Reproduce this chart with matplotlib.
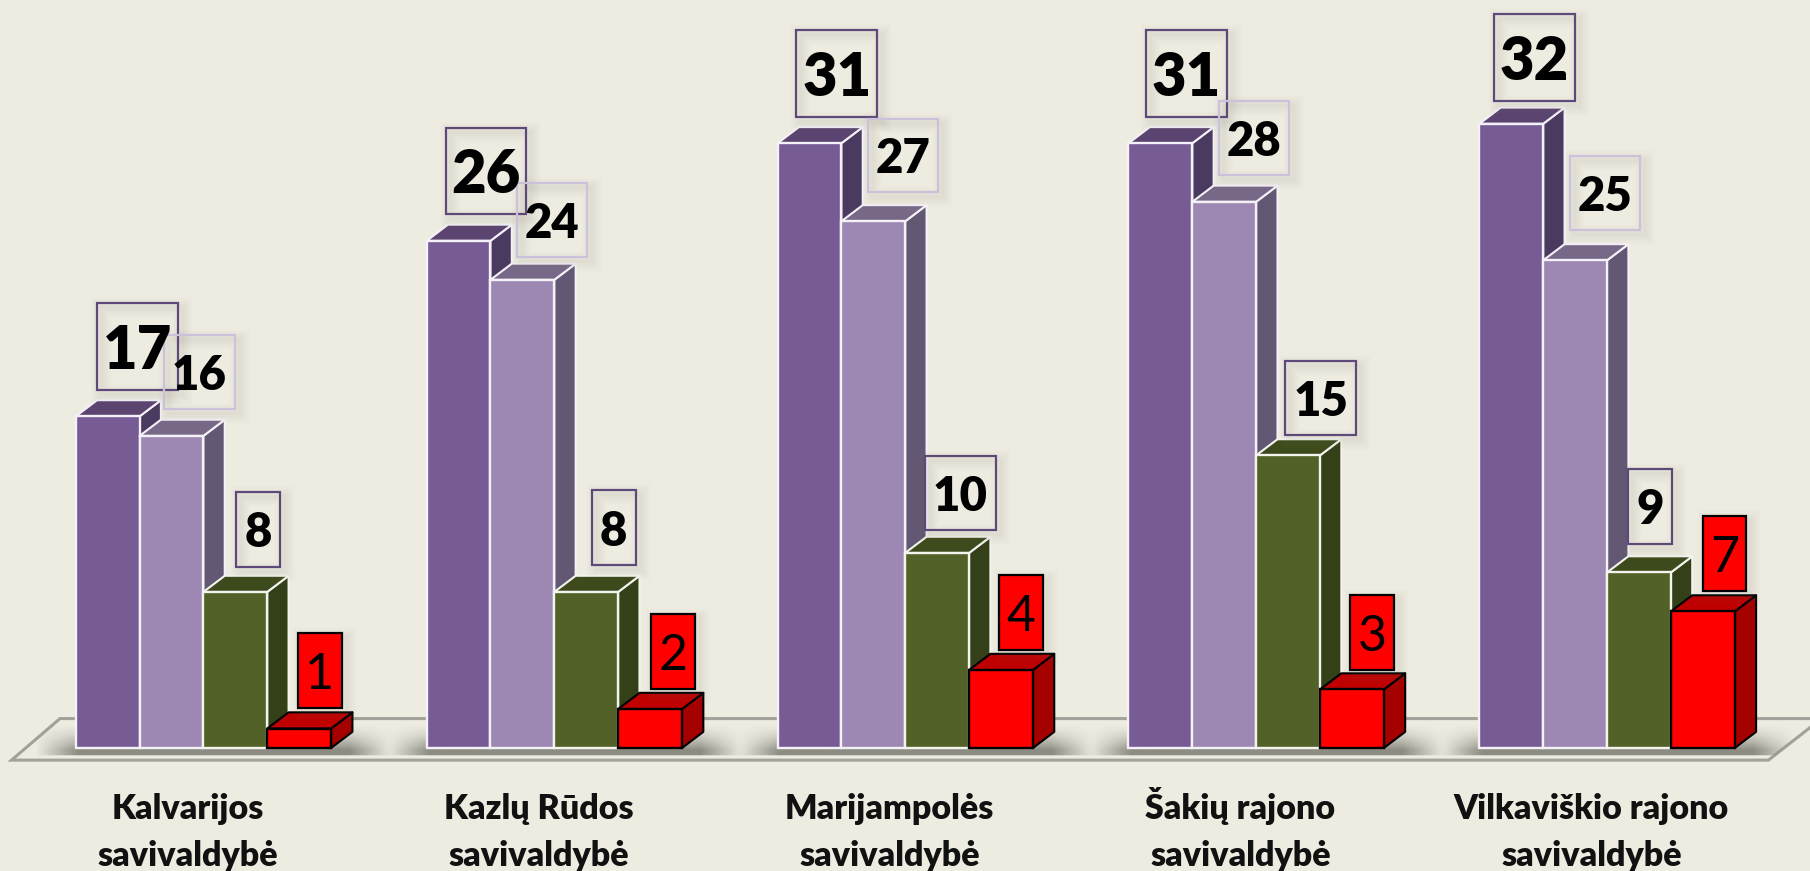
import numpy as np
import matplotlib
matplotlib.use("Agg")
import matplotlib.pyplot as plt
from matplotlib.patches import Polygon, Rectangle
from matplotlib.colors import to_rgb

plt.rcParams['font.family'] = ['Lato', 'DejaVu Sans']

categories = ["Kalvarijos\nsavivaldybė", "Kazlų Rūdos\nsavivaldybė", "Marijampolės\nsavivaldybė",
              "Šakių rajono\nsavivaldybė", "Vilkaviškio rajono\nsavivaldybė"]
series1 = [17, 26, 31, 31, 32]
series2 = [16, 24, 27, 28, 25]
series3 = [8, 8, 10, 15, 9]
series4 = [1, 2, 4, 3, 7]

# label nudges, in px of the 1568 wide preview
label_dx = [[53, 51, 51, 50, 47.5], [51.5, 53, 53, 53, 53], [47, 51, 47.5, 55.5, 37], [45, 47, 44.5, 44.5, 46]]
label_gap = [[23, 23, 23, 23, 20], [23, 20, 25, 23, 26], [22, 23, 20, 18, 25], [18, 17, 17, 17, 18]]

fronts = ["#775B95", "#9C88B2", "#526127", "#FF0000"]
sides = ["#4B3A60", "#635873", "#344018", "#A50000"]
tops = ["#5B4470", "#776888", "#3D4A1C", "#C00000"]
edges = ["#F4F1F8", "#F4F1F8", "#F4F4EE", "#000000"]
box_edges = ["#5F497A", "#CCC1DA", "#5F497A", "#000000"]
bg = "#EEECE1"

s = 1810 / 1568
unit = 16.9 * s  # px per value
base_px = 648 * s
bw = 55.3 * s
group_step = 304 * s
group_x0 = 65.6 * s
depth_x = 18.5 * s
depth_y = 14 * s / unit


def ypx(p):
    # pixel row (from the top) to value units
    return (base_px - p) / unit


fig = plt.figure(figsize=(18.10, 8.71), dpi=100, facecolor=bg)
ax = fig.add_axes([0, 0, 1, 1])
ax.set_facecolor(bg)
ax.set_xlim(0, 1810)
ax.set_ylim(ypx(871), ypx(0))
ax.axis("off")

# floor
floor = Polygon([(10 * s, ypx(658.5 * s)), (1532 * s, ypx(658.5 * s)), (1578 * s, ypx(622.5 * s)), (52 * s, ypx(622.5 * s))],
                closed=True, facecolor=bg, edgecolor="#A2A29A", lw=2.2, zorder=1)
ax.add_patch(floor)

# soft shadow on the floor under each group
xx = np.linspace(0, 1, 300)
yy = np.linspace(0, 1, 60)
fade_x = np.clip(np.minimum(xx / 0.12, (1 - xx) / 0.12), 0, 1)
fade_y = np.where(yy < 0.8, (yy / 0.8) ** 1.5, 1.0)
fade_y[yy > 0.95] = 0
rgba = np.zeros((60, 300, 4))
rgba[..., :3] = to_rgb("#8C8C82")
rgba[..., 3] = np.outer(fade_y, fade_x)
for g in range(len(categories)):
    left = group_x0 + g * group_step
    im = ax.imshow(rgba, origin="upper", aspect="auto", zorder=1.5,
                   extent=(left - 35 * s, left + 275 * s, ypx(656 * s), ypx(627 * s)))
    im.set_clip_path(floor)
ax.set_xlim(0, 1810)
ax.set_ylim(ypx(871), ypx(0))

all_series = [series1, series2, series3, series4]
for i, vals in enumerate(all_series):
    lefts = group_x0 + np.arange(len(vals)) * group_step + i * bw
    z = 3 + i
    for x, v in zip(lefts, vals):
        side = [(x + bw, 0), (x + bw + depth_x, depth_y), (x + bw + depth_x, v + depth_y), (x + bw, v)]
        top = [(x, v), (x + depth_x, v + depth_y), (x + bw + depth_x, v + depth_y), (x + bw, v)]
        ax.add_patch(Polygon(side, closed=True, fc=sides[i], ec=edges[i], lw=1.5, zorder=z, joinstyle="round"))
        ax.add_patch(Polygon(top, closed=True, fc=tops[i], ec=edges[i], lw=1.5, zorder=z, joinstyle="round"))
    ax.bar(lefts, vals, width=bw, align="edge", color=fronts[i], edgecolor=edges[i], linewidth=1.7, zorder=z + 0.1)

# value labels in boxes
for i, vals in enumerate(all_series):
    for g, v in enumerate(vals):
        x = group_x0 + 0.4 * s + g * group_step + i * bw
        cx = x + label_dx[i][g] * s
        bottom = v + label_gap[i][g] * s / unit
        two = v >= 10
        if i == 0:
            w, h, fs = 70 * s, 75 * s, 43
        elif two:
            w, h, fs = 61 * s, 64 * s, 34
        else:
            w, h, fs = 38 * s, 65 * s, 34
        hv = h / unit
        red = i == 3
        for k in range(5):
            ax.add_patch(Rectangle((cx - w / 2 + 4, bottom - 4 / unit), w, hv, fc="none", ec="#77776A",
                                   alpha=0.025, lw=2 + k * 3, zorder=7))
        ax.add_patch(Rectangle((cx - w / 2, bottom), w, hv, fc="#FF0000" if red else "none",
                               ec=box_edges[i], lw=1.6, zorder=8))
        ax.text(cx, bottom + hv / 2, str(v), ha="center", va="center_baseline", fontsize=fs + 2 if red else fs,
                fontweight="normal" if red else "heavy", color="black", zorder=9)

# category labels, each line on its own baseline
for g, name in enumerate(categories):
    for line, base in zip(name.split("\n"), [709.5, 750.5]):
        ax.text(group_x0 + g * group_step + 97 * s, ypx(base * s), line, ha="center", va="baseline",
                fontsize=24.5, fontweight="heavy", color="#111111", zorder=9)

fig.savefig("out.png", dpi=100, facecolor=bg)
